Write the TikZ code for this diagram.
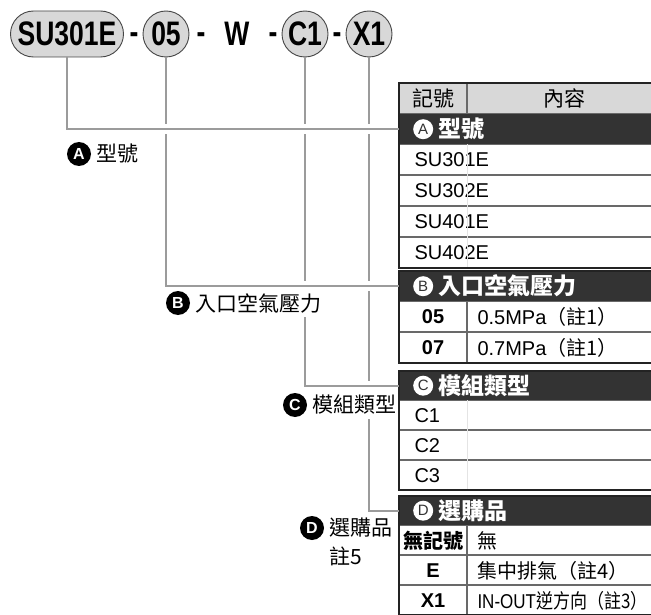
\documentclass[tikz,border=0pt]{standalone}
\usepackage{fontspec}
\setmainfont{Liberation Sans}
\newfontfamily\cjk{Noto Sans CJK TC}
\newfontfamily\narrowsf[FakeStretch=0.78]{Liberation Sans}
\newfontfamily\cellnarrow[FakeStretch=0.85]{Liberation Sans}
\newfontfamily\cjknarrow[FakeStretch=0.85]{Noto Sans CJK TC}
\usepackage{tikz}
\usetikzlibrary{shapes.misc, positioning}
\definecolor{mydark}{RGB}{35,35,35}
\definecolor{myband}{RGB}{51,51,51}
\definecolor{mylight}{RGB}{216,216,216}
\definecolor{mypill}{RGB}{70,70,70}
\definecolor{myline}{RGB}{155,155,155}
\definecolor{myrule}{RGB}{105,105,105}
\definecolor{myfaint}{RGB}{228,228,228}
\newcommand\topfont{\narrowsf\bfseries\fontsize{34}{36}\selectfont}
\newcommand\cellfont{\fontsize{20}{24}\selectfont}
\newcommand\lblfont{\cjk\fontsize{21}{25}\selectfont}
\newcommand\bandfont{\cjk\bfseries\fontsize{23}{26}\selectfont}
\tikzset{
  pill/.style={rounded rectangle, draw=mypill, fill=mylight,
    minimum width=113pt, minimum height=46pt, inner sep=0pt,
    line width=0.9pt, font=\topfont},
  ball/.style={circle, draw=mypill, fill=mylight,
    minimum size=46pt, inner sep=0pt, line width=0.9pt, font=\topfont},
  topdash/.style={inner sep=0pt, font=\topfont},
  conn/.style={line width=1.8pt, color=myline,
    preaction={draw=white, line width=10pt, shorten <=2pt, shorten >=2pt}},
  hdrcell/.style={rectangle, draw=myrule, fill=mylight, line width=1pt,
    minimum width=67pt, minimum height=30pt, inner sep=0pt,
    anchor=north west, font=\cjk\fontsize{21}{24}\selectfont},
  band/.style={rectangle, draw=myband, fill=myband, minimum width=261pt,
    minimum height=30pt, inner sep=0pt, anchor=north west},
  tagw/.style={circle, fill=white, minimum size=20pt, inner sep=0pt,
    text=myband, font=\fontsize{15}{15}\selectfont},
  bandtxt/.style={inner sep=1pt, text=white, font=\bandfont},
  rowcell/.style={rectangle, draw=myrule, line width=1pt, text width=231pt,
    minimum height=30pt, align=left, inner xsep=15pt, inner ysep=0pt,
    anchor=north west, font=\cellfont},
  keycell/.style={rectangle, draw=myrule, line width=1pt, minimum width=67pt,
    minimum height=30pt, inner sep=0pt, anchor=north west,
    font=\cellfont\bfseries},
  valcell/.style={rectangle, draw=myrule, line width=1pt, text width=173pt,
    minimum height=30pt, align=left, inner xsep=10pt, inner ysep=0pt,
    font=\cellfont},
  frame/.style={draw=mydark, line width=2pt},
  faint/.style={draw=myfaint, line width=0.8pt},
  tagb/.style={circle, fill=black, minimum size=24pt, inner sep=0pt,
    text=white, font=\bfseries\fontsize{16}{16}\selectfont},
  lbltxt/.style={fill=white, inner xsep=2pt, inner ysep=4pt, font=\lblfont}
}
\begin{document}
\begin{tikzpicture}[x=1pt, y=-1pt]
  \useasboundingbox (0,0) rectangle (651,615);
  % part number
  \node[pill] (su)  at (67,34)  {SU301E};
  \node[topdash, anchor=base] (d1) at (134,44) {-};
  \node[ball] (p05) at (166,34) {05};
  \node[topdash, anchor=base] (d2) at (201,44) {-};
  \node[topdash] (w) at (237,34) {W};
  \node[topdash, anchor=base] (d3) at (273,44) {-};
  \node[ball] (pc1) at (305,34) {C1};
  \node[topdash, anchor=base] (d4) at (337,44) {-};
  \node[ball] (px1) at (369,34) {X1};

  % table A
  \node[hdrcell] (hk) at (399,83) {記號};
  \node[hdrcell, minimum width=194pt, right=0pt of hk] (hv) {內容};
  \node[band] (bA) at (hk.south west) {};
  \node[tagw, right=14pt of bA.west] (cA) {A};
  \node[bandtxt, right=4pt of cA] (tA) {型號};
  \node[rowcell] (a1) at (bA.south west) {SU301E};
  \node[rowcell] (a2) at (a1.south west) {SU302E};
  \node[rowcell] (a3) at (a2.south west) {SU401E};
  \node[rowcell] (a4) at (a3.south west) {SU402E};
  \draw[faint] (a1.north -| hk.east) -- (a4.south -| hk.east);
  \draw[frame] (hk.north west) rectangle (a4.south east);

  % table B
  \node[band] (bB) at (399,271) {};
  \node[tagw, right=14pt of bB.west] (cB) {B};
  \node[bandtxt, right=4pt of cB] (tB) {入口空氣壓力};
  \node[keycell] (b1) at (bB.south west) {05};
  \node[valcell, right=0pt of b1] (b1v) {0.5MPa{\cjk（註1）}};
  \node[keycell] (b2) at (b1.south west) {07};
  \node[valcell, right=0pt of b2] (b2v) {0.7MPa{\cjk（註1）}};
  \draw[frame] (bB.north west) rectangle (b2v.south east);

  % table C
  \node[band, minimum height=29pt] (bC) at (399,371) {};
  \node[tagw, right=14pt of bC.west] (cC) {C};
  \node[bandtxt, right=4pt of cC] (tC) {模組類型};
  \node[rowcell, minimum height=29pt] (c1) at (bC.south west) {C1};
  \node[rowcell, minimum height=29pt] (c2) at (c1.south west) {C2};
  \node[rowcell, minimum height=29pt] (c3) at (c2.south west) {C3};
  \draw[faint] (c1.north -| hk.east) -- (c3.south -| hk.east);
  \draw[frame] (bC.north west) rectangle (c3.south east);

  % table D
  \node[band, minimum height=29pt] (bD) at (399,496) {};
  \node[tagw, right=14pt of bD.west] (cD) {D};
  \node[bandtxt, right=4pt of cD] (tD) {選購品};
  \node[keycell, minimum height=29pt] (e1) at (bD.south west) {\cjk 無記號};
  \node[valcell, minimum height=29pt, right=0pt of e1] (e1v) {\cjk 無};
  \node[keycell, minimum height=29pt] (e2) at (e1.south west) {E};
  \node[valcell, minimum height=29pt, right=0pt of e2] (e2v) {\cjk 集中排氣（註4）};
  \node[keycell, minimum height=29pt] (e3) at (e2.south west) {X1};
  \node[valcell, minimum height=29pt, right=0pt of e3] (e3v)
    {{\cellnarrow IN-OUT}{\cjknarrow 逆方向（註3）}};
  \draw[frame] (bD.north west) rectangle (e3v.south east);

  % leaders
  \draw[conn] (px1.south) |- (bD.west);
  \draw[conn] (pc1.south) |- (bC.west);
  \draw[conn] (p05.south) |- (bB.west);
  \draw[conn] (su.south)  |- (bA.west);

  % labels
  \node[tagb] (dA) at (79,154) {A};
  \node[lbltxt, right=3pt of dA] (lA) {型號};
  \node[tagb] (dB) at (178,303) {B};
  \node[lbltxt, right=3pt of dB] (lB) {入口空氣壓力};
  \node[tagb] (dC) at (295,405) {C};
  \node[lbltxt, right=3pt of dC] (lC) {模組類型};
  \node[tagb] (dD) at (312,528) {D};
  \node[lbltxt, right=3pt of dD] (lD) {選購品};
  \node[lbltxt, below right=1pt and 0pt of lD.south west] (lD2) {註5};
\end{tikzpicture}
\end{document}
